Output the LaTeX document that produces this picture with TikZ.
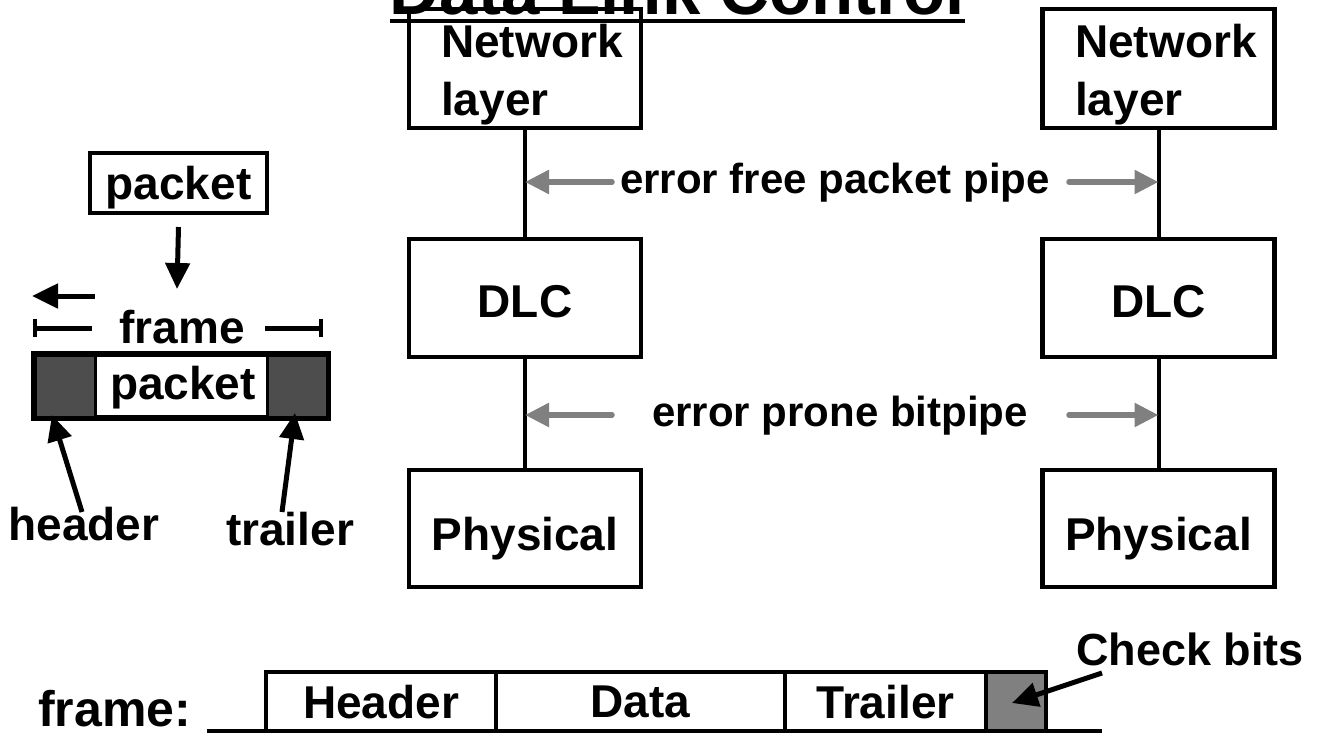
\documentclass[tikz,border=0pt]{standalone}
\usepackage{fontspec}
\setmainfont{Liberation Sans}
\usetikzlibrary{arrows.meta}
\definecolor{dk}{RGB}{77,77,77}
\definecolor{gy}{RGB}{128,128,128}
\begin{document}
\begin{tikzpicture}[x=1pt,y=-1pt,
  big/.style={font=\bfseries\fontsize{46}{58}\selectfont, inner sep=0pt},
  mid/.style={font=\bfseries\fontsize{42}{50}\selectfont, inner sep=0pt},
  layerbox/.style={draw, line width=4.5pt, minimum width=232pt, minimum height=118pt, inner sep=0pt, text depth=0pt, big},
  conn/.style={line width=4pt},
  garrow/.style={line width=5.5pt, draw=gy, line cap=round, -{Triangle[length=24pt,width=23pt]}},
  barrow/.style={line width=5pt, -{Triangle[length=26pt,width=24pt]}},
  dimline/.style={line width=5pt, -{Bar[width=18pt,line width=4pt]}},
  cell/.style={draw, line width=3.5pt, minimum height=59pt, inner sep=0pt, text depth=0pt, big}
]
\useasboundingbox (0,0) rectangle (1323,734);

% title
\node[font=\bfseries\fontsize{69}{80}\selectfont, inner sep=0pt, anchor=base] (title) at (677.5,14) {Data Link Control};
\draw[line width=4pt] ([yshift=-7pt]title.base west) -- ([yshift=-7pt]title.base east);

% layer boxes
\node[layerbox, minimum height=119pt] (netL) at (525,68.5) {};
\node[layerbox, minimum height=119pt] (netR) at (1158.5,68.5) {};
\node[big, anchor=north west, align=left] (netLt) at (441,24) {Network\\layer};
\node[big, anchor=north west, align=left] (netRt) at (1075,24) {Network\\layer};
\node[layerbox, text height=38pt] (dlcL) at (525,298) {DLC};
\node[layerbox, text height=38pt] (dlcR) at (1158.5,298) {DLC};
\node[layerbox, minimum height=117pt, text height=43pt] (phyL) at (525,528.5) {Physical};
\node[layerbox, minimum height=117pt, text height=43pt] (phyR) at (1158.5,528.5) {Physical};

\draw[conn] (netL) -- (dlcL);
\draw[conn] (dlcL) -- (phyL);
\draw[conn] (netR) -- (dlcR);
\draw[conn] (dlcR) -- (phyR);

% pipes
\node[mid, anchor=base] (free) at (835,193) {error free packet pipe};
\node[mid, anchor=base] (bitp) at (840,426) {error prone bitpipe};
\coordinate (fL) at (612,182);
\coordinate (fR) at (1069,182);
\coordinate (bL) at (612,415);
\coordinate (bR) at (1069,415);
\draw[garrow] (fL) -- (fL -| netL.south);
\draw[garrow] (fR) -- (fR -| netR.south);
\draw[garrow] (bL) -- (bL -| dlcL.south);
\draw[garrow] (bR) -- (bR -| dlcR.south);

% left: packet to frame
\node[draw, line width=4pt, minimum width=177pt, minimum height=60pt, inner sep=0pt, text depth=0pt, big] (pkt) at (178.5,183) {packet};
\coordinate (dTip) at (177,289);
\draw[barrow] ([yshift=-12pt]pkt.south) -- (dTip);
\coordinate (laS) at (95,296);
\coordinate (laE) at (32,296);
\draw[barrow] (laS) -- (laE);

\node[big, anchor=base] (frl) at (182,343) {frame};
\coordinate (dl1) at (92,328);
\coordinate (dl2) at (33,328);
\coordinate (dr1) at (265,328);
\coordinate (dr2) at (323,328);
\draw[dimline] (dl1) -- (dl2);
\draw[dimline] (dr1) -- (dr2);

\node[draw, line width=4pt, minimum width=292pt, minimum height=62pt, inner sep=0pt] (frm) at (181,386) {};
\node[draw, fill=dk, line width=3pt, minimum width=60pt, minimum height=62pt, inner sep=0pt] (hblk) at (65,386) {};
\node[draw, fill=dk, line width=3pt, minimum width=60pt, minimum height=62pt, inner sep=0pt] (tblk) at (297,386) {};
\draw[line width=4pt] (frm.north west) rectangle (frm.south east);
\node[big, anchor=base] (pk2) at (183,399) {packet};

\node[big, anchor=base] (hdrl) at (84,540) {header};
\node[big, anchor=base] (trll) at (290,545) {trailer};
\coordinate (hS) at (82,512);
\coordinate (hT) at (52,415);
\coordinate (tS) at (282,512);
\coordinate (tT) at (295,413);
\draw[barrow] (hS) -- (hT);
\draw[barrow] (tS) -- (tT);

% bottom frame format
\node[font=\bfseries\fontsize{50}{60}\selectfont, inner sep=0pt, anchor=base west] (frm2) at (38,726) {frame:};
\coordinate (bl1) at (207,731);
\coordinate (bl2) at (1102,731);
\node[cell, minimum width=230pt] (hdr) at (381,701.5) {Header};
\node[cell, minimum width=289pt] (dat) at (640.5,701.5) {Data};
\node[cell, minimum width=201pt] (trl) at (885.5,701.5) {Trailer};
\node[cell, minimum width=60pt, fill=gy] (chk) at (1016,701.5) {};
\draw[line width=4pt] (bl1) -- (bl2);
\node[font=\bfseries\fontsize{45}{54}\selectfont, inner sep=0pt, anchor=base] (cbl) at (1190,665) {Check bits};
\coordinate (cbS) at (1102,673);
\coordinate (cbT) at (1012,703);
\draw[barrow] (cbS) -- (cbT);
\end{tikzpicture}
\end{document}
